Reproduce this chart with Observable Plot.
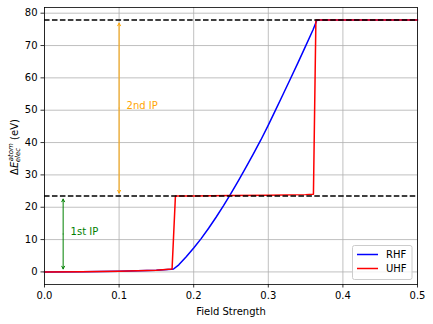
<!DOCTYPE html>
<html><head><meta charset="utf-8">
<script src="https://cdn.jsdelivr.net/npm/d3@7"></script>
<script src="https://cdn.jsdelivr.net/npm/@observablehq/plot@0.6"></script>
<style>
body{margin:0;background:#fff;}
svg{font-family:"DejaVu Sans",sans-serif;}
</style></head><body>
<script>
// ---- data ----
const rhfField  = [0, 0.05, 0.1, 0.15, 0.17, 0.173, 0.18, 0.19, 0.2, 0.21, 0.22, 0.23, 0.24, 0.25, 0.26, 0.27, 0.28, 0.29, 0.3, 0.31, 0.32, 0.33, 0.34, 0.35, 0.36, 0.3652, 0.4, 0.45, 0.5];
const rhfEnergy = [0, 0.05, 0.2, 0.5, 0.8, 0.9, 2.2, 4.7, 7.4, 10.3, 13.5, 16.9, 20.5, 24.3, 28.2, 32.3, 36.5, 40.8, 45.4, 50.2, 55.0, 59.9, 64.8, 69.8, 74.9, 77.87, 77.87, 77.87, 77.87];
const uhfField  = [0, 0.05, 0.1, 0.15, 0.171, 0.1755, 0.2, 0.25, 0.3, 0.35, 0.3605, 0.3638, 0.4, 0.45, 0.5];
const uhfEnergy = [0, 0.05, 0.2, 0.5, 0.9, 23.45, 23.5, 23.6, 23.7, 23.9, 24.0, 77.87, 77.87, 77.87, 77.87];
const ipLevels = [23.45, 77.87];
const arrowX = [0.025, 0.1];
const arrowLow = [0, 23.45];
const arrowHigh = [23.45, 77.87];
const arrowColors = ["#008000", "#ffa500"];
const ipLabels = ["1st IP", "2nd IP"];
const ipLabelX = [0.035, 0.11];
const ipLabelY = [12.5, 51.5];
const seriesNames = ["RHF", "UHF"];
const seriesColors = ["#0000ff", "#ff0000"];
const xTicks = [0, 0.1, 0.2, 0.3, 0.4, 0.5];
const yTicks = [0, 10, 20, 30, 40, 50, 60, 70, 80];

const rhf = rhfField.map((x, i) => ({x, y: rhfEnergy[i]}));
const uhf = uhfField.map((x, i) => ({x, y: uhfEnergy[i]}));
const arrows = arrowX.map((x, i) => ({x, lo: arrowLow[i], hi: arrowHigh[i], mid: (arrowLow[i] + arrowHigh[i]) / 2, c: arrowColors[i]}));
const labels = ipLabels.map((t, i) => ({t, x: ipLabelX[i], y: ipLabelY[i], c: arrowColors[i]}));

const gridStyle = {stroke: "#b0b0b0", strokeOpacity: 1, strokeWidth: 0.8};
const arrowStyle = {stroke: "c", strokeWidth: 1, headLength: 4.5, headAngle: 55, insetEnd: 3};

const plot = Plot.plot({
  width: 433, height: 324,
  marginLeft: 44, marginRight: 16, marginTop: 7, marginBottom: 40,
  style: {fontFamily: "DejaVu Sans", fontSize: "10px", color: "#000", background: "#fff"},
  x: {domain: [0, 0.5]},
  y: {domain: [-3.89, 81.76]},
  marks: [
    Plot.gridX(xTicks, gridStyle),
    Plot.gridY(yTicks, gridStyle),
    Plot.line(rhf, {x: "x", y: "y", stroke: seriesColors[0], strokeWidth: 1.5}),
    Plot.line(uhf, {x: "x", y: "y", stroke: seriesColors[1], strokeWidth: 1.5}),
    Plot.ruleY(ipLevels, {stroke: "#000", strokeWidth: 1.5, strokeDasharray: "5.55,2.4"}),
    Plot.arrow(arrows, {x1: "x", x2: "x", y1: "mid", y2: "hi", ...arrowStyle}),
    Plot.arrow(arrows, {x1: "x", x2: "x", y1: "mid", y2: "lo", ...arrowStyle}),
    Plot.text(labels, {x: "x", y: "y", text: "t", fill: "c", textAnchor: "start", fontSize: 10}),
    Plot.frame({stroke: "#000", strokeWidth: 0.8}),
    Plot.axisX(xTicks, {tickFormat: d3.format(".1f"), tickSize: 3.5, tickPadding: 3.5, strokeWidth: 0.8,
      label: "Field Strength", labelAnchor: "center", labelArrow: "none", labelOffset: 30}),
    Plot.axisY(yTicks, {tickSize: 3.5, tickPadding: 3.5, strokeWidth: 0.8, label: null})
  ]
});
document.body.appendChild(plot);

const svg = d3.select(plot);
// y label with math-like scripts
const g = svg.append("g").attr("transform", "translate(17.5,147) rotate(-90)").attr("fill", "#000").attr("text-anchor", "start");
function piece(str, size, italic, dy) {
  return g.append("text").attr("text-anchor", "start").attr("font-size", size)
    .attr("font-style", italic ? "italic" : "normal").attr("y", dy).text(str);
}
const pD = piece("Δ", 10, false, 0), pE = piece("E", 10, true, 0);
const pSup = piece("atom", 7, true, -4.5), pSub = piece("elec", 7, true, 2);
const pU = piece("\u00a0(eV)", 10, false, 0);
const wD = pD.node().getComputedTextLength(), wE = pE.node().getComputedTextLength();
const wS = Math.max(pSup.node().getComputedTextLength(), pSub.node().getComputedTextLength());
const wU = pU.node().getComputedTextLength();
const total = wD + wE + wS + 0.5 + wU;
let x0 = -total / 2;
pD.attr("x", x0); x0 += wD;
pE.attr("x", x0); x0 += wE;
pSup.attr("x", x0 + 0.5); pSub.attr("x", x0 - 0.5); x0 += wS + 0.5;
pU.attr("x", x0);

// legend
const lg = svg.append("g").attr("text-anchor", "start");
lg.append("rect").attr("x", 352.5).attr("y", 245.5).attr("width", 59.5).attr("height", 34).attr("rx", 2)
  .attr("fill", "#fff").attr("fill-opacity", 0.8).attr("stroke", "#cccccc").attr("stroke-width", 1);
seriesNames.forEach((n, i) => {
  const y = 254.5 + i * 14;
  lg.append("line").attr("x1", 357).attr("x2", 378).attr("y1", y).attr("y2", y).attr("stroke", seriesColors[i]).attr("stroke-width", 1.5);
  lg.append("text").attr("text-anchor", "start").attr("x", 386).attr("y", y).attr("dy", "0.35em").attr("font-size", 10).attr("fill", "#000").text(n);
});
</script>
</body></html>
